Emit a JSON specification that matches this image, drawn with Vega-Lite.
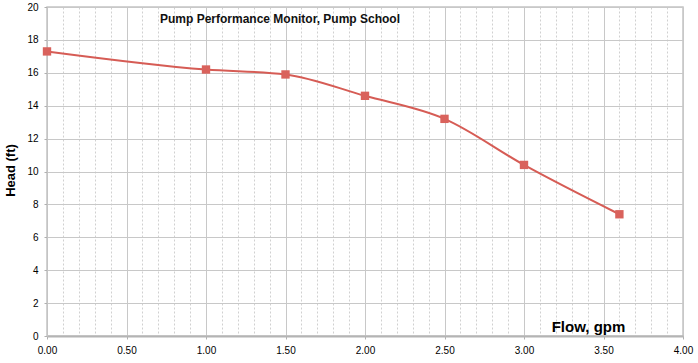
{
  "$schema": "https://vega.github.io/schema/vega-lite/v6.json",
  "width": 636,
  "height": 329,
  "autosize": {"type": "none"},
  "padding": {"left": 47, "top": 7, "right": 15, "bottom": 27},
  "background": "white",
  "config": {
    "view": {"stroke": "#c4c4c4", "strokeWidth": 1.5},
    "font": "Liberation Sans"
  },
  "title": {
    "text": "Pump Performance Monitor, Pump School",
    "anchor": "start",
    "frame": "group",
    "dx": 113,
    "offset": -24,
    "fontSize": 12,
    "fontWeight": "bold",
    "font": "Liberation Sans",
    "color": "#111111"
  },
  "data": {
    "values": [
      {"flow": 0.0, "head": 17.3},
      {"flow": 1.0, "head": 16.2},
      {"flow": 1.5, "head": 15.9},
      {"flow": 2.0, "head": 14.6},
      {"flow": 2.5, "head": 13.2},
      {"flow": 3.0, "head": 10.4},
      {"flow": 3.6, "head": 7.4}
    ]
  },
  "encoding": {
    "x": {
      "field": "flow",
      "type": "quantitative",
      "scale": {"domain": [0, 4], "nice": false, "zero": false},
      "axis": {
        "values": [0,0.1,0.2,0.3,0.4,0.5,0.6,0.7,0.8,0.9,1,1.1,1.2,1.3,1.4,1.5,1.6,1.7,1.8,1.9,2,2.1,2.2,2.3,2.4,2.5,2.6,2.7,2.8,2.9,3,3.1,3.2,3.3,3.4,3.5,3.6,3.7,3.8,3.9,4],
        "labelExpr": "abs(datum.value*2 - round(datum.value*2)) < 0.001 ? format(datum.value, '.2f') : ''",
        "labelFont": "Liberation Sans",
        "labelFontSize": 10,
        "labelColor": "#000000",
        "labelPadding": 6,
        "labelFlush": false,
        "gridColor": {"condition": {"test": "abs(datum.value*2 - round(datum.value*2)) < 0.001", "value": "#c8c8c8"}, "value": "#d0d0d0"},
        "gridDash": {"condition": {"test": "abs(datum.value*2 - round(datum.value*2)) < 0.001", "value": []}, "value": [2, 2]},
        "gridWidth": 1,
        "ticks": true,
        "tickSize": {"condition": {"test": "abs(datum.value*2 - round(datum.value*2)) < 0.001", "value": 3}, "value": 0},
        "tickColor": "#b0b0b0",
        "domainColor": "#b4b4b4",
        "domainWidth": 2,
        "title": "Flow, gpm",
        "titleFont": "Liberation Sans",
        "titleFontSize": 15,
        "titleFontWeight": "bold",
        "titleColor": "#000000",
        "titleX": 541,
        "titleY": -10,
        "titleAlign": "center",
        "titleBaseline": "middle"
      }
    },
    "y": {
      "field": "head",
      "type": "quantitative",
      "scale": {"domain": [0, 20], "nice": false},
      "axis": {
        "values": [0,2,4,6,8,10,12,14,16,18,20],
        "labelFont": "Liberation Sans",
        "labelFontSize": 10,
        "labelColor": "#000000",
        "labelPadding": 6,
        "gridColor": "#c8c8c8",
        "gridWidth": 1,
        "tickSize": 3,
        "tickColor": "#b0b0b0",
        "domainColor": "#c4c4c4",
        "title": "Head (ft)",
        "titleFont": "Liberation Sans",
        "titleFontSize": 13,
        "titleFontWeight": "bold",
        "titleColor": "#000000",
        "titleX": -37,
        "titleY": 163,
        "titleAlign": "center",
        "titleBaseline": "middle"
      }
    }
  },
  "layer": [
    {
      "mark": {"type": "line", "color": "#d65c55", "strokeWidth": 2, "interpolate": "monotone"}
    },
    {
      "mark": {"type": "point", "shape": "square", "filled": true, "color": "#d9625c", "size": 70, "opacity": 1}
    }
  ]
}
